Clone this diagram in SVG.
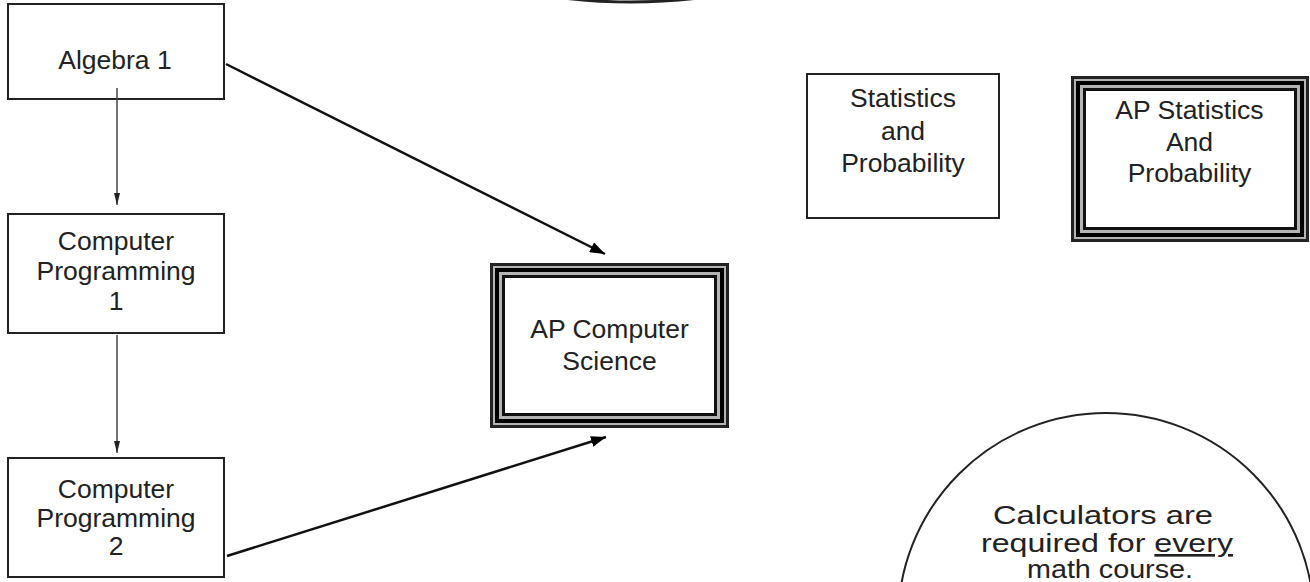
<svg xmlns="http://www.w3.org/2000/svg" width="1310" height="582" viewBox="0 0 1310 582">
  <style>
    .box { fill: #ffffff; stroke: #222222; stroke-width: 2; }
    .lbl { font-family: "Liberation Sans", Arial, sans-serif; font-size: 26.5px; fill: #222222; text-anchor: middle; }
    .big { font-family: "Liberation Sans", Arial, sans-serif; font-size: 26.5px; fill: #222222; text-anchor: middle; }
    .tb-gap { fill: #b4b4b4; }
    .tb-out { fill: none; stroke: #222222; stroke-width: 3; }
    .tb-mid { fill: none; stroke: #000000; stroke-width: 4; }
    .tb-in { fill: #ffffff; stroke: #111111; stroke-width: 3; }
    .thin { stroke: #444444; stroke-width: 1.5; fill: none; }
    .thick { stroke: #111111; stroke-width: 2.5; fill: none; }
  </style>
  <defs>
    <marker id="headThin" markerUnits="userSpaceOnUse" markerWidth="12" markerHeight="6" refX="12" refY="3" orient="auto">
      <path d="M0,0 L12,3 L0,6 z" fill="#222222"/>
    </marker>
    <marker id="headThick" markerUnits="userSpaceOnUse" markerWidth="15" markerHeight="11" refX="15" refY="5.5" orient="auto">
      <path d="M0,0 L15,5.5 L0,11 z" fill="#000000"/>
    </marker>
  </defs>
  <rect width="1310" height="582" fill="#ffffff"/>

  <g id="top-shape">
    <ellipse cx="631" cy="-100" rx="243" ry="102" fill="none" stroke="#222222" stroke-width="3"/>
  </g>

  <g id="algebra1">
    <rect class="box" x="8" y="4" width="216" height="95"/>
    <text class="lbl" x="115" y="69">Algebra 1</text>
  </g>

  <g id="cp1">
    <rect class="box" x="8" y="214" width="216" height="119"/>
    <text class="lbl" x="116" y="250">Computer</text>
    <text class="lbl" x="116" y="280">Programming</text>
    <text class="lbl" x="116" y="310">1</text>
  </g>

  <g id="cp2">
    <rect class="box" x="8" y="458" width="216" height="119"/>
    <text class="lbl" x="116" y="498">Computer</text>
    <text class="lbl" x="116" y="527">Programming</text>
    <text class="lbl" x="116" y="555">2</text>
  </g>

  <g id="apcs">
    <rect class="tb-gap" x="490" y="263" width="239" height="165"/>
    <rect class="tb-out" x="491.5" y="264.5" width="236" height="162"/>
    <rect class="tb-mid" x="497" y="270" width="225" height="151"/>
    <rect class="tb-in" x="503.5" y="276.5" width="212" height="138"/>
    <text class="lbl" x="609.5" y="338">AP Computer</text>
    <text class="lbl" x="609.5" y="370">Science</text>
  </g>

  <g id="stats">
    <rect class="box" x="807" y="74" width="192" height="144"/>
    <text class="lbl" x="903" y="107">Statistics</text>
    <text class="lbl" x="903" y="140">and</text>
    <text class="lbl" x="903" y="172">Probability</text>
  </g>

  <g id="apstats">
    <rect class="tb-gap" x="1071" y="76" width="238" height="166"/>
    <rect class="tb-out" x="1072.5" y="77.5" width="235" height="163"/>
    <rect class="tb-mid" x="1078" y="83" width="224" height="152"/>
    <rect class="tb-in" x="1084.5" y="89.5" width="211" height="139"/>
    <text class="lbl" x="1189.5" y="119">AP Statistics</text>
    <text class="lbl" x="1189.5" y="151">And</text>
    <text class="lbl" x="1189.5" y="182">Probability</text>
  </g>

  <g id="calculators-note">
    <ellipse cx="1106" cy="621" rx="208" ry="208" fill="#ffffff" stroke="#222222" stroke-width="2"/>
    <text class="big" x="1103" y="524" textLength="220" lengthAdjust="spacingAndGlyphs">Calculators are</text>
    <text class="big" x="1107" y="552" textLength="252" lengthAdjust="spacingAndGlyphs">required for <tspan text-decoration="underline">every</tspan></text>
    <text class="big" x="1110" y="578" textLength="166" lengthAdjust="spacingAndGlyphs">math course.</text>
  </g>

  <g id="connectors">
    <path class="thin" d="M117 88 L117 205" marker-end="url(#headThin)"/>
    <path class="thin" d="M117 335 L117 453" marker-end="url(#headThin)"/>
    <path class="thick" d="M226 64 L605 254" marker-end="url(#headThick)"/>
    <path class="thick" d="M227 556 L606 437" marker-end="url(#headThick)"/>
  </g>
</svg>
